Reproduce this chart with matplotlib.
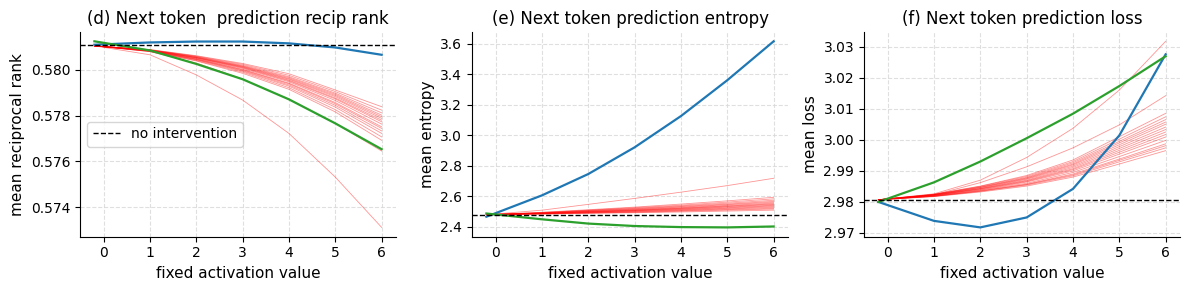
import matplotlib
matplotlib.use("Agg")
import matplotlib.pyplot as plt

x_vals = [-0.2, 1, 2, 3, 4, 5, 6]

# (d) reciprocal rank
rr_baseline = 0.58108
rr_blue = [0.58110, 0.58120, 0.58124, 0.58124, 0.58116, 0.58098, 0.58066]
rr_green = [0.58125, 0.58085, 0.58026, 0.57959, 0.57871, 0.57766, 0.57653]
rr_red = [
    [0.58105, 0.58089, 0.58062, 0.58028, 0.57983, 0.57912, 0.57839],
    [0.58105, 0.58088, 0.58060, 0.58024, 0.57976, 0.57905, 0.57824],
    [0.58105, 0.58087, 0.58058, 0.58020, 0.57970, 0.57898, 0.57812],
    [0.58105, 0.58087, 0.58057, 0.58017, 0.57966, 0.57893, 0.57802],
    [0.58105, 0.58086, 0.58055, 0.58015, 0.57962, 0.57888, 0.57795],
    [0.58105, 0.58086, 0.58054, 0.58013, 0.57959, 0.57883, 0.57788],
    [0.58105, 0.58085, 0.58053, 0.58011, 0.57955, 0.57877, 0.57780],
    [0.58105, 0.58085, 0.58052, 0.58009, 0.57952, 0.57873, 0.57773],
    [0.58105, 0.58084, 0.58050, 0.58006, 0.57948, 0.57866, 0.57763],
    [0.58105, 0.58084, 0.58048, 0.58002, 0.57942, 0.57857, 0.57751],
    [0.58105, 0.58083, 0.58047, 0.58000, 0.57939, 0.57852, 0.57744],
    [0.58105, 0.58083, 0.58045, 0.57997, 0.57934, 0.57845, 0.57733],
    [0.58105, 0.58082, 0.58044, 0.57994, 0.57929, 0.57837, 0.57722],
    [0.58105, 0.58081, 0.58041, 0.57990, 0.57922, 0.57826, 0.57707],
    [0.58105, 0.58080, 0.58039, 0.57985, 0.57915, 0.57816, 0.57692],
    [0.58105, 0.58080, 0.58030, 0.57960, 0.57871, 0.57766, 0.57645],
    [0.58105, 0.58066, 0.57978, 0.57868, 0.57722, 0.57531, 0.57311],
]

# (e) entropy
ent_baseline = 2.478
ent_blue = [2.465, 2.605, 2.745, 2.920, 3.125, 3.360, 3.615]
ent_green = [2.486, 2.448, 2.420, 2.404, 2.397, 2.395, 2.401]
ent_red = [
    [2.478, 2.482, 2.487, 2.491, 2.496, 2.502, 2.508],
    [2.478, 2.483, 2.489, 2.494, 2.501, 2.508, 2.515],
    [2.478, 2.484, 2.490, 2.496, 2.504, 2.512, 2.520],
    [2.478, 2.485, 2.492, 2.499, 2.507, 2.516, 2.526],
    [2.478, 2.485, 2.493, 2.501, 2.510, 2.520, 2.531],
    [2.478, 2.486, 2.495, 2.504, 2.513, 2.524, 2.536],
    [2.478, 2.487, 2.496, 2.505, 2.516, 2.528, 2.540],
    [2.478, 2.487, 2.497, 2.507, 2.519, 2.532, 2.545],
    [2.478, 2.488, 2.499, 2.509, 2.521, 2.535, 2.549],
    [2.478, 2.489, 2.500, 2.511, 2.524, 2.539, 2.554],
    [2.478, 2.489, 2.502, 2.514, 2.528, 2.544, 2.560],
    [2.478, 2.490, 2.504, 2.517, 2.532, 2.548, 2.566],
    [2.478, 2.491, 2.506, 2.520, 2.536, 2.554, 2.573],
    [2.478, 2.493, 2.508, 2.524, 2.541, 2.561, 2.582],
    [2.478, 2.494, 2.511, 2.528, 2.548, 2.569, 2.592],
    [2.478, 2.508, 2.546, 2.585, 2.626, 2.669, 2.717],
]

# (f) loss
loss_baseline = 2.9807
loss_blue = [2.9800, 2.9739, 2.9718, 2.9750, 2.9842, 3.0014, 3.0275]
loss_green = [2.9800, 2.9863, 2.9930, 3.0005, 3.0084, 3.0173, 3.0269]
loss_red = [
    [2.9807, 2.9825, 2.9851, 2.9885, 2.9935, 3.0010, 3.0085],
    [2.9807, 2.9824, 2.9850, 2.9882, 2.9930, 3.0002, 3.0074],
    [2.9807, 2.9824, 2.9848, 2.9879, 2.9926, 2.9995, 3.0065],
    [2.9807, 2.9823, 2.9847, 2.9877, 2.9922, 2.9990, 3.0057],
    [2.9807, 2.9823, 2.9846, 2.9875, 2.9919, 2.9984, 3.0050],
    [2.9807, 2.9822, 2.9844, 2.9873, 2.9915, 2.9978, 3.0041],
    [2.9807, 2.9822, 2.9843, 2.9870, 2.9911, 2.9972, 3.0033],
    [2.9807, 2.9821, 2.9842, 2.9868, 2.9907, 2.9966, 3.0025],
    [2.9807, 2.9821, 2.9841, 2.9866, 2.9904, 2.9960, 3.0017],
    [2.9807, 2.9820, 2.9839, 2.9864, 2.9900, 2.9954, 3.0009],
    [2.9807, 2.9819, 2.9838, 2.9860, 2.9895, 2.9946, 2.9998],
    [2.9807, 2.9819, 2.9836, 2.9857, 2.9890, 2.9938, 2.9987],
    [2.9807, 2.9818, 2.9835, 2.9856, 2.9887, 2.9934, 2.9981],
    [2.9807, 2.9818, 2.9834, 2.9854, 2.9884, 2.9929, 2.9974],
    [2.9807, 2.9817, 2.9832, 2.9851, 2.9880, 2.9922, 2.9965],
    [2.9807, 2.9826, 2.9870, 2.9943, 3.0037, 3.0160, 3.0317],
    [2.9807, 2.9823, 2.9862, 2.9913, 2.9974, 3.0048, 3.0142],
]

titles = ["(d) Next token  prediction recip rank",
          "(e) Next token prediction entropy",
          "(f) Next token prediction loss"]
ylabels = ["mean reciprocal rank", "mean entropy", "mean loss"]
xlabel = "fixed activation value"

panels = [
    (rr_baseline, rr_blue, rr_green, rr_red),
    (ent_baseline, ent_blue, ent_green, ent_red),
    (loss_baseline, loss_blue, loss_green, loss_red),
]

fig = plt.figure(figsize=(11.89, 2.90), dpi=100)
lefts = [80 / 1189, 472 / 1189, 864 / 1189]
width = 316 / 1189
bottom = 1 - 236.7 / 290
height = (236.7 - 32) / 290

for i, (base, blue, green, reds) in enumerate(panels):
    ax = fig.add_axes([lefts[i], bottom, width, height])
    for r in reds:
        ax.plot(x_vals, r, color="red", lw=0.6, alpha=0.42)
    ax.plot(x_vals, blue, color="#1f77b4", lw=1.6)
    ax.plot(x_vals, green, color="#2ca02c", lw=1.6)
    ax.axhline(base, color="black", ls="--", lw=1.0, label="no intervention")
    ax.grid(True, ls="--", color="#d8d8d8", lw=0.8, alpha=0.8)
    ax.set_axisbelow(True)
    ax.spines["top"].set_visible(False)
    ax.spines["right"].set_visible(False)
    ax.set_xticks([0, 1, 2, 3, 4, 5, 6])
    ax.set_title(titles[i], fontsize=12)
    ax.set_ylabel(ylabels[i], fontsize=11)
    ax.set_xlabel(xlabel, fontsize=11)
    if i == 0:
        ax.legend(loc="center left", fontsize=10)

fig.savefig("out.png", dpi=100)
